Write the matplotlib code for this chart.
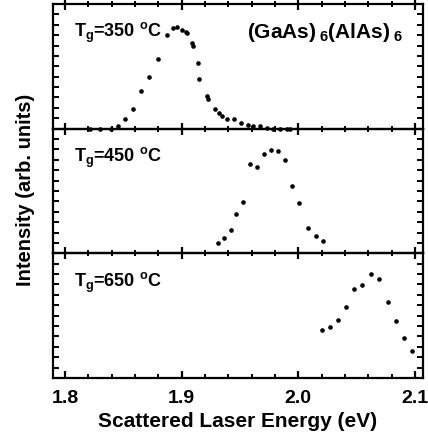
import numpy as np
import matplotlib
matplotlib.use('Agg')
from matplotlib import pyplot as plt
from matplotlib.ticker import MultipleLocator

plt.rcParams['font.family'] = ['Liberation Sans', 'DejaVu Sans']
plt.rcParams['font.weight'] = 'bold'
plt.rcParams['mathtext.default'] = 'regular'

# Data (energy in eV, intensity as fraction of panel)
e_350 = [1.821, 1.830, 1.839, 1.845, 1.851, 1.858, 1.865, 1.872, 1.880, 1.887,
         1.893, 1.896, 1.900, 1.904, 1.905, 1.909, 1.910, 1.914, 1.915, 1.922,
         1.923, 1.929, 1.932, 1.935, 1.939, 1.945, 1.951, 1.957, 1.961, 1.967,
         1.973, 1.978, 1.984, 1.990, 1.993]
i_350 = [0.0, 0.0, 0.0, 0.024, 0.081, 0.161, 0.298, 0.411, 0.556, 0.75,
         0.806, 0.815, 0.79, 0.774, 0.766, 0.685, 0.661, 0.524, 0.395, 0.258,
         0.234, 0.161, 0.129, 0.105, 0.081, 0.081, 0.048, 0.032, 0.024, 0.024,
         0.008, 0.0, 0.0, 0.0, 0.0]

e_450 = [1.931, 1.936, 1.942, 1.947, 1.953, 1.959, 1.965, 1.971, 1.977, 1.983,
         1.989, 1.995, 2.001, 2.008, 2.015, 2.021]
i_450 = [0.079, 0.119, 0.19, 0.317, 0.413, 0.714, 0.69, 0.794, 0.825, 0.817,
         0.746, 0.54, 0.405, 0.206, 0.135, 0.095]

e_650 = [2.020, 2.027, 2.034, 2.041, 2.048, 2.055, 2.062, 2.069, 2.077, 2.084,
         2.091, 2.098]
i_650 = [0.384, 0.408, 0.464, 0.568, 0.712, 0.744, 0.832, 0.792, 0.608, 0.456,
         0.32, 0.216]

panels = [(e_350, i_350, '350'), (e_450, i_450, '450'), (e_650, i_650, '650')]

fig, axes = plt.subplots(3, 1, sharex=True, figsize=(4.28, 4.38), dpi=100,
                         gridspec_kw={'hspace': 0})
fig.subplots_adjust(left=0.124, right=0.988, top=0.991, bottom=0.137)

for k, (ax, (e, inten, temp)) in enumerate(zip(axes, panels)):
    ax.set_facecolor('none')
    ax.plot(e, inten, 'o', color='black', ms=2.3, mec='black', clip_on=False)
    ax.set_xlim(1.7897, 2.1069)
    ax.set_ylim(0, 1)
    ax.xaxis.set_major_locator(MultipleLocator(0.1))
    ax.xaxis.set_minor_locator(MultipleLocator(0.02))
    ax.set_yticks(np.linspace(0, 1, 13)[1:-1])
    ax.set_yticklabels([])
    for s in ax.spines.values():
        s.set_linewidth(1.6)
    ax.tick_params(axis='y', which='both', direction='in', left=True, right=True,
                   length=4, width=1.4)
    if k < 2:
        ax.tick_params(axis='x', which='major', direction='inout', length=9, width=1.6,
                       bottom=True, top=(k == 0))
        ax.tick_params(axis='x', which='minor', direction='inout', length=5, width=1.4,
                       bottom=True, top=(k == 0))
    else:
        ax.tick_params(axis='x', which='major', direction='in', length=5, width=1.6,
                       top=False, labelsize=14, pad=8.5)
        ax.tick_params(axis='x', which='minor', direction='in', length=3, width=1.4,
                       top=False)
    ax.text(0.057, 0.765, r'T$_{g}$=' + temp + r' $^{o}$C', transform=ax.transAxes,
            fontsize=13, fontweight='bold', va='center', ha='left')

axes[0].tick_params(axis='x', which='both', top=True)
axes[0].text(0.945, 0.77, r'(GaAs)$\,_{6}$(AlAs)$\,_{6}$', transform=axes[0].transAxes,
             fontsize=15, fontweight='bold', va='center', ha='right')

axes[2].set_xticks([1.8, 1.9, 2.0, 2.1])
axes[2].set_xticklabels(['1.8', '1.9', '2.0', '2.1'], fontweight='bold')
axes[2].set_xlabel('Scattered Laser Energy (eV)', fontsize=15, fontweight='bold',
                   labelpad=4)
fig.text(0.06, 0.566, 'Intensity (arb. units)', rotation=90, fontsize=14.5,
         fontweight='bold', ha='center', va='center')

fig.savefig('out.png', dpi=100, facecolor='white')
